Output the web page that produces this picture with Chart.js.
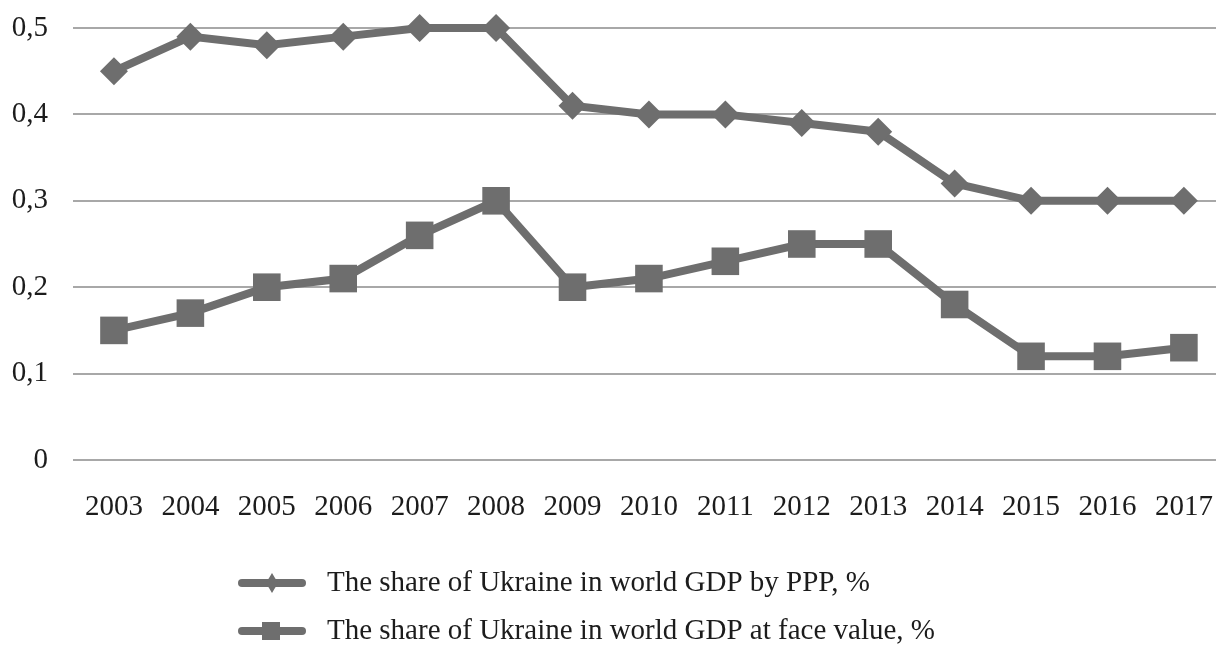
<!DOCTYPE html>
<html>
<head>
<meta charset="utf-8">
<script src="https://cdn.jsdelivr.net/npm/chart.js@4/dist/chart.umd.min.js"></script>
<style>
  html, body { margin: 0; padding: 0; background: #fff; overflow: hidden; }
  #wrap { width: 1220px; height: 646px; position: relative; }
</style>
</head>
<body>
<div id="wrap"><canvas id="c" width="1220" height="646"></canvas></div>
<script>
// Years on the horizontal axis
const years = ['2003','2004','2005','2006','2007','2008','2009','2010','2011','2012','2013','2014','2015','2016','2017'];
// Ukraine's share of world GDP by purchasing power parity, %
const shareByPPP = [0.45, 0.49, 0.48, 0.49, 0.50, 0.50, 0.41, 0.40, 0.40, 0.39, 0.38, 0.32, 0.30, 0.30, 0.30];
// Ukraine's share of world GDP at face (nominal) value, %
const shareFaceValue = [0.15, 0.17, 0.20, 0.21, 0.26, 0.30, 0.20, 0.21, 0.23, 0.25, 0.25, 0.18, 0.12, 0.12, 0.13];
// Series names
const seriesNames = ['The share of Ukraine in world GDP by PPP, %', 'The share of Ukraine in world GDP at face value, %'];
// Value axis ticks
const yTicks = [0, 0.1, 0.2, 0.3, 0.4, 0.5];

const GRAY = '#6e6e6e';
const FONT = '"Liberation Serif", "Times New Roman", serif';

const toPoints = arr => arr.map((v, i) => ({ x: i, y: v }));

// Legend drawn beneath the plot: a line sample with the series marker, then its name
const stackedLegend = {
  id: 'stackedLegend',
  afterDraw(chart) {
    const ctx = chart.ctx;
    const rows = [583, 631];
    ctx.save();
    chart.data.datasets.forEach((ds, i) => {
      const y = rows[i];
      ctx.strokeStyle = ds.borderColor;
      ctx.lineWidth = 8;
      ctx.lineCap = 'round';
      ctx.beginPath();
      ctx.moveTo(242, y);
      ctx.lineTo(302, y);
      ctx.stroke();
      ctx.fillStyle = ds.pointBackgroundColor;
      ctx.beginPath();
      if (ds.pointStyle === 'rectRot') {
        ctx.moveTo(272, y - 10);
        ctx.lineTo(278, y);
        ctx.lineTo(272, y + 10);
        ctx.lineTo(266, y);
        ctx.closePath();
      } else {
        ctx.rect(262, y - 9, 18, 18);
      }
      ctx.fill();
      ctx.fillStyle = '#1c1c1c';
      ctx.font = '29px ' + FONT;
      ctx.textBaseline = 'middle';
      ctx.textAlign = 'left';
      ctx.fillText(ds.label, 327, y);
    });
    ctx.restore();
  }
};

new Chart(document.getElementById('c'), {
  type: 'line',
  data: {
    datasets: [
      {
        label: seriesNames[0],
        data: toPoints(shareByPPP),
        borderColor: GRAY,
        backgroundColor: GRAY,
        borderWidth: 8,
        pointStyle: 'rectRot',
        pointRadius: 14,
        pointBackgroundColor: GRAY,
        pointBorderColor: GRAY,
        pointBorderWidth: 0,
        tension: 0,
        clip: false
      },
      {
        label: seriesNames[1],
        data: toPoints(shareFaceValue),
        borderColor: GRAY,
        backgroundColor: GRAY,
        borderWidth: 8,
        pointStyle: 'rect',
        pointRadius: 19.5,
        pointBackgroundColor: GRAY,
        pointBorderColor: GRAY,
        pointBorderWidth: 0,
        tension: 0,
        clip: false
      }
    ]
  },
  options: {
    responsive: false,
    animation: false,
    devicePixelRatio: 1,
    layout: { autoPadding: false, padding: { top: 28, right: 4, left: 0, bottom: 0 } },
    plugins: {
      legend: { display: false },
      tooltip: { enabled: false }
    },
    scales: {
      x: {
        type: 'linear',
        min: -0.536,
        max: 14.42,
        afterFit(scale) {
          scale.height = 186;
          scale.paddingLeft = 0;
          scale.paddingRight = 0;
        },
        grid: { display: false, drawTicks: false },
        border: { display: false },
        ticks: {
          stepSize: 1,
          includeBounds: false,
          autoSkip: false,
          maxRotation: 0,
          padding: 30,
          color: '#1c1c1c',
          font: { family: FONT, size: 29 },
          callback: v => (Number.isInteger(v) && years[v] !== undefined) ? years[v] : ''
        }
      },
      y: {
        min: yTicks[0],
        max: yTicks[yTicks.length - 1],
        afterFit(scale) {
          scale.width = 73;
          scale.paddingTop = 0;
          scale.paddingBottom = 0;
        },
        afterBuildTicks(scale) { scale.ticks = yTicks.map(v => ({ value: v })); },
        grid: { color: '#a8a8a8', lineWidth: 2, drawTicks: false },
        border: { display: false },
        ticks: {
          padding: 25,
          color: '#1c1c1c',
          font: { family: FONT, size: 29 },
          callback: v => v === 0 ? '0' : v.toFixed(1).replace('.', ',')
        }
      }
    }
  },
  plugins: [stackedLegend]
});
</script>
</body>
</html>
